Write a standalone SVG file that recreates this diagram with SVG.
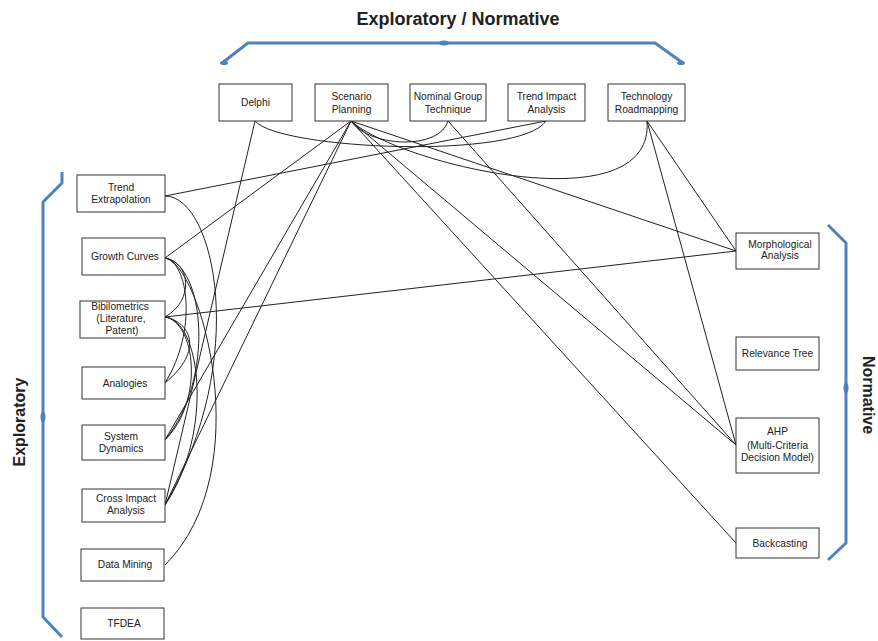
<svg xmlns="http://www.w3.org/2000/svg" width="878" height="641" viewBox="0 0 878 641">
<style>
.box{fill:#fff;stroke:#333;stroke-width:1}
.t{font-family:"Liberation Sans",Arial,sans-serif;font-size:10.2px;fill:#222;text-anchor:middle}
.h{font-family:"Liberation Sans",Arial,sans-serif;font-weight:bold;fill:#222;text-anchor:middle}
.c{fill:none;stroke:#222;stroke-width:1}
.br{fill:none;stroke:#4f81bd;stroke-width:3;stroke-linejoin:round}
.bd{fill:#4f81bd}
</style>
<rect width="878" height="641" fill="#fff"/>
<g id="brackets">
<path class="br" d="M222,63 L248,43 L655,43 L683,63"/>
<ellipse class="bd" cx="444" cy="43" rx="5" ry="2.5"/>
<ellipse class="bd" cx="224" cy="63" rx="4" ry="2"/>
<ellipse class="bd" cx="681" cy="63" rx="4" ry="2"/>
<path class="br" d="M62,172 L62,183 L43,202 L43,617 L62,637"/>
<ellipse class="bd" cx="43" cy="417" rx="2.5" ry="5"/>
<path class="br" d="M828,225 L846,243 L846,543 L828,560"/>
<ellipse class="bd" cx="846" cy="388" rx="2.5" ry="5"/>
<text class="h" x="458" y="25" font-size="18">Exploratory / Normative</text>
<text class="h" font-size="16" transform="translate(25,422) rotate(-90)">Exploratory</text>
<text class="h" font-size="16" transform="translate(863,395) rotate(90)">Normative</text>
</g>
<g id="connectors">
<path class="c" d="M546,121 L165,196"/>
<path class="c" d="M351,121 L165,258"/>
<path class="c" d="M351,121 L165,440"/>
<path class="c" d="M351,121 L165,505"/>
<path class="c" d="M255,121 L165,505"/>
<path class="c" d="M351,121 L736,251"/>
<path class="c" d="M351,121 L736,445"/>
<path class="c" d="M351,121 L736,543"/>
<path class="c" d="M448,121 L736,445"/>
<path class="c" d="M647,121 L736,251"/>
<path class="c" d="M647,121 L736,445"/>
<path class="c" d="M165,317 L736,251"/>
<path class="c" d="M255,121 C280,150 520,160 546,121"/>
<path class="c" d="M351,121 C370,148 440,150 448,121"/>
<path class="c" d="M351,121 C400,165 655,225 647,121"/>
<path class="c" d="M165,196 C215,196 250,360 165,505"/>
<path class="c" d="M165,258 C190,262 195,300 165,317"/>
<path class="c" d="M165,258 C188,262 198,330 165,383"/>
<path class="c" d="M165,258 C205,265 215,380 165,440"/>
<path class="c" d="M165,258 C200,262 260,470 165,565"/>
<path class="c" d="M165,317 C190,322 205,350 165,383"/>
<path class="c" d="M165,317 C195,322 205,400 165,440"/>
<path class="c" d="M165,317 C200,320 215,430 165,505"/>
</g>
<g id="delphi"><rect class="box" x="219" y="84" width="73" height="37"/><text class="t" x="255.5" y="106">Delphi</text></g>
<g id="scenario-planning"><rect class="box" x="315" y="84" width="73" height="37"/><text class="t" x="351.5" y="100">Scenario</text><text class="t" x="351.5" y="112.5">Planning</text></g>
<g id="nominal-group"><rect class="box" x="410" y="84" width="76" height="37"/><text class="t" x="448" y="100">Nominal Group</text><text class="t" x="448" y="112.5">Technique</text></g>
<g id="trend-impact"><rect class="box" x="508" y="84" width="77" height="37"/><text class="t" x="546.5" y="100">Trend Impact</text><text class="t" x="546.5" y="112.5">Analysis</text></g>
<g id="tech-roadmapping"><rect class="box" x="608" y="84" width="77" height="37"/><text class="t" x="646.5" y="100">Technology</text><text class="t" x="646.5" y="112.5">Roadmapping</text></g>
<g id="trend-extrapolation"><rect class="box" x="77" y="175" width="88" height="37"/><text class="t" x="121" y="190.5">Trend</text><text class="t" x="121" y="202.5">Extrapolation</text></g>
<g id="growth-curves"><rect class="box" x="82" y="238" width="83" height="37"/><text class="t" x="125" y="260">Growth Curves</text></g>
<g id="bibliometrics"><rect class="box" x="80" y="301" width="85" height="37"/><text class="t" x="120" y="310">Bibilometrics</text><text class="t" x="121" y="322">(Literature,</text><text class="t" x="122" y="334">Patent)</text></g>
<g id="analogies"><rect class="box" x="82" y="367" width="83" height="32"/><text class="t" x="125" y="386.5">Analogies</text></g>
<g id="system-dynamics"><rect class="box" x="82" y="425" width="83" height="35"/><text class="t" x="121" y="440">System</text><text class="t" x="121" y="451.5">Dynamics</text></g>
<g id="cross-impact"><rect class="box" x="82" y="489" width="83" height="33"/><text class="t" x="126" y="501.5">Cross Impact</text><text class="t" x="126" y="514">Analysis</text></g>
<g id="data-mining"><rect class="box" x="81" y="549" width="83" height="32"/><text class="t" x="125" y="567.5">Data Mining</text></g>
<g id="tfdea"><rect class="box" x="81" y="608" width="83" height="31"/><text class="t" x="124" y="627">TFDEA</text></g>
<g id="morphological"><rect class="box" x="736" y="233" width="83" height="36"/><text class="t" x="780" y="247.5">Morphological</text><text class="t" x="780" y="259">Analysis</text></g>
<g id="relevance-tree"><rect class="box" x="736" y="337" width="83" height="33"/><text class="t" x="777.5" y="356.5">Relevance Tree</text></g>
<g id="ahp"><rect class="box" x="736" y="418" width="83" height="55"/><text class="t" x="777.5" y="435">AHP</text><text class="t" x="777.5" y="448.5">(Multi-Criteria</text><text class="t" x="777.5" y="460.5">Decision Model)</text></g>
<g id="backcasting"><rect class="box" x="736" y="528" width="83" height="30"/><text class="t" x="780" y="546.5">Backcasting</text></g>
</svg>
